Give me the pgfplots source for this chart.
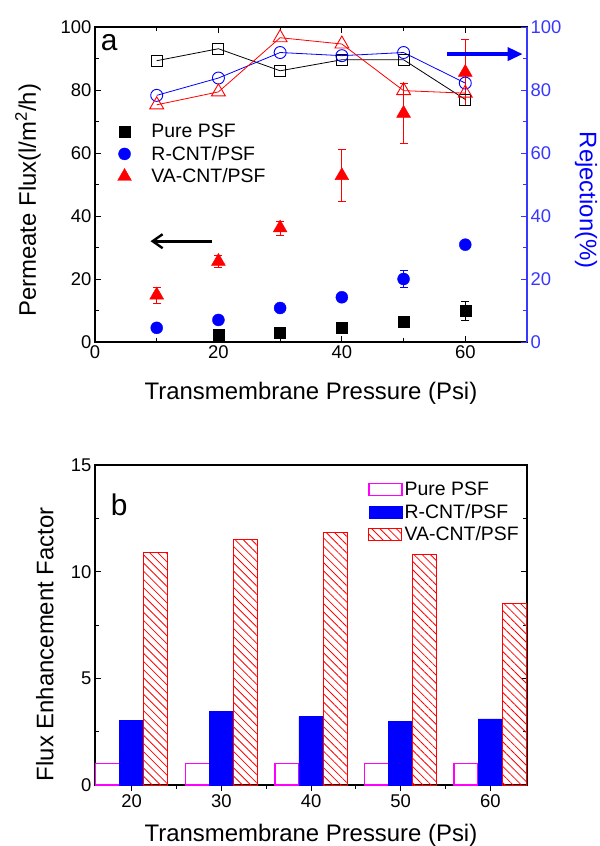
\documentclass[border=0pt]{standalone}
\usepackage{fontspec}
\setmainfont{Liberation Sans}
\usepackage{pgfplots}
\pgfplotsset{compat=1.18}
\usetikzlibrary{arrows.meta,patterns.meta}
\definecolor{rblue}{RGB}{0,0,255}
\definecolor{axblue}{RGB}{55,55,255}
\definecolor{rred}{RGB}{255,0,0}
\definecolor{mag}{RGB}{255,0,255}
\begin{document}
\begin{tikzpicture}
\path[use as bounding box] (0,0) rectangle (600bp,-846bp);
\pgfplotsset{every axis/.append style={
  scale only axis, width=432bp,
  /pgf/number format/assume math mode=true,
  tick label style={font=\fontsize{18.5}{22}\selectfont},
  label style={font=\fontsize{24}{28}\selectfont},
  axis line style={line width=1.1bp},
  major tick length=6bp, minor tick length=4bp,
  every tick/.style={line width=0.9bp},
  tick align=inside,
}}
% ---------- panel a: left axis (flux) ----------
\begin{axis}[at={(95bp,-342bp)}, anchor=south west, height=315bp,
  xmin=0, xmax=70, ymin=0, ymax=100,
  xtick={0,20,40,60}, minor xtick={10,30,50},
  ytick={0,20,...,100}, minor ytick={10,30,...,90},
  ytick pos=left,
  xlabel={Transmembrane Pressure (Psi)},
  ylabel={Permeate Flux(l/m\textsuperscript{2}/h)},
  xlabel style={at={(axis description cs:0.5,-0.162)}, anchor=center},
  ylabel style={at={(axis description cs:-0.155,0.45)}, anchor=center},
  legend style={draw=none, fill=none, at={(0.045,0.705)}, anchor=north west,
    font=\fontsize{19.5}{23}\selectfont, row sep=3bp,
    /tikz/every even column/.append style={column sep=0bp}},
  legend cell align=left,
  legend image code/.code={\draw[#1] plot coordinates {(0bp,0bp)};},
]
\addplot[only marks, mark=square*, mark size=5.5bp, black,
  error bars/.cd, y dir=both, y explicit,
  error bar style={line width=0.8bp}, error mark options={rotate=90, mark size=4bp, line width=0.8bp}]
  coordinates {(20,2.3) +- (0,0.4) (30,3.1) +- (0,0.4) (40,4.4) +- (0,0.5) (50,6.5) +- (0,1.2) (60,10.0) +- (0,3.0)};
\addlegendentry{\hspace{18bp}Pure PSF}
\addplot[only marks, mark=*, mark size=6bp, rblue,
  error bars/.cd, y dir=both, y explicit,
  error bar style={line width=0.8bp}, error mark options={rotate=90, mark size=4bp, line width=0.8bp}]
  coordinates {(10,4.5) +- (0,0.3) (20,7.0) +- (0,0.4) (30,10.8) +- (0,0.5) (40,14.2) +- (0,0.6) (50,20.0) +- (0,2.8) (60,30.9) +- (0,0.5)};
\addlegendentry{\hspace{18bp}R-CNT/PSF}
\addplot[only marks, mark=triangle*, mark size=8bp, rred,
  error bars/.cd, y dir=both, y explicit,
  error bar style={line width=0.8bp}, error mark options={rotate=90, mark size=4bp, line width=0.8bp}]
  coordinates {(10,14.9) +- (0,2.5) (20,25.6) +- (0,2.0) (30,36.2) +- (0,2.2) (40,52.8) +- (0,8.2) (50,72.6) +- (0,9.6) (60,85.6) +- (0,10.5)};
\addlegendentry{\hspace{18bp}VA-CNT/PSF}
\node[font=\fontsize{30}{34}\selectfont] at (axis description cs:0.033,0.95) {a};
\draw[line width=2.8bp, black, -{Straight Barb[length=10bp,width=14bp,line width=2.4bp]}] (axis cs:19,32) -- (axis cs:9,32);
\end{axis}
% ---------- panel a: right axis (rejection) ----------
\begin{axis}[at={(95bp,-342bp)}, anchor=south west, height=315bp,
  xmin=0, xmax=70, ymin=0, ymax=100,
  axis x line=none, axis y line*=right,
  ytick={0,20,...,100}, minor ytick={10,30,...,90},
  y axis line style={axblue, line width=1.4bp},
  y tick style={axblue}, minor y tick style={axblue},
  yticklabel style={text=axblue},
  ylabel={Rejection(\%)},
  ylabel style={text=rblue, rotate=180, at={(axis description cs:1.137,0.45)}, anchor=center},
]
\addplot[black, line width=0.8bp, mark=square, mark size=5.5bp, mark options={line width=0.9bp, fill=white}]
  coordinates {(10,89.3) (20,93.1) (30,86.1) (40,89.6) (50,89.6) (60,77.0)};
\addplot[rblue, line width=0.8bp, mark=o, mark size=6bp, mark options={line width=0.9bp, fill=white}]
  coordinates {(10,78.3) (20,83.8) (30,91.9) (40,90.9) (50,91.9) (60,82.2)};
\addplot[rred, line width=0.8bp, mark=triangle, mark size=8bp, mark options={line width=0.9bp, fill=white}]
  coordinates {(10,75.3) (20,79.4) (30,96.6) (40,94.6) (50,79.8) (60,79.0)};
\draw[line width=3.4bp, rblue, -{Triangle[length=15bp,width=13bp]}] (axis cs:57,91.4) -- (axis cs:69.3,91.4);
\end{axis}
% ---------- panel b ----------
\begin{axis}[at={(95bp,-785bp)}, anchor=south west, height=320bp,
  xmin=-0.41, xmax=4.41, ymin=0, ymax=15,
  ybar,
  xtick={0,1,2,3,4}, xticklabels={20,30,40,50,60},
  minor xtick={0.5,1.5,2.5,3.5}, xtick pos=lower,
  ytick={0,5,10,15}, minor ytick={2.5,7.5,12.5}, ytick pos=both,
  xlabel={Transmembrane Pressure (Psi)},
  ylabel={Flux Enhancement Factor},
  xlabel style={at={(axis description cs:0.5,-0.156)}, anchor=center},
  ylabel style={at={(axis description cs:-0.116,0.44)}, anchor=center},
  legend style={draw=none, fill=none, at={(0.625,0.96)}, anchor=north west,
    font=\fontsize{19.5}{23}\selectfont, row sep=3bp},
  legend cell align=left,
]
\addplot[ybar, bar width=0.268, bar shift=-0.268, draw=mag, fill=white, line width=1.5bp,
  legend image code/.code={\draw[draw=mag, fill=white, line width=1.5bp] (0bp,-6bp) rectangle (33bp,6bp);}]
  coordinates {(0,1) (1,1) (2,1) (3,1) (4,1)};
\addlegendentry{Pure PSF}
\addplot[ybar, bar width=0.268, bar shift=0, draw=rblue, fill=rblue, line width=0.6bp,
  legend image code/.code={\draw[draw=rblue, fill=rblue] (0bp,-6bp) rectangle (33bp,6bp);}]
  coordinates {(0,3.02) (1,3.45) (2,3.2) (3,3.0) (4,3.1)};
\addlegendentry{R-CNT/PSF}
\addplot[ybar, bar width=0.268, bar shift=0.268, draw=rred, line width=1bp,
  pattern={Lines[angle=-45, distance=5.8bp, line width=0.8bp]}, pattern color=rred,
  legend image code/.code={\draw[draw=rred, line width=1bp, pattern={Lines[angle=-45, distance=5.8bp, line width=0.8bp]}, pattern color=rred] (0bp,-6bp) rectangle (33bp,6bp);}]
  coordinates {(0,10.88) (1,11.52) (2,11.82) (3,10.82) (4,8.53)};
\addlegendentry{VA-CNT/PSF}
\node[font=\fontsize{30}{34}\selectfont] at (axis description cs:0.056,0.875) {b};
\end{axis}
\end{tikzpicture}
\end{document}
